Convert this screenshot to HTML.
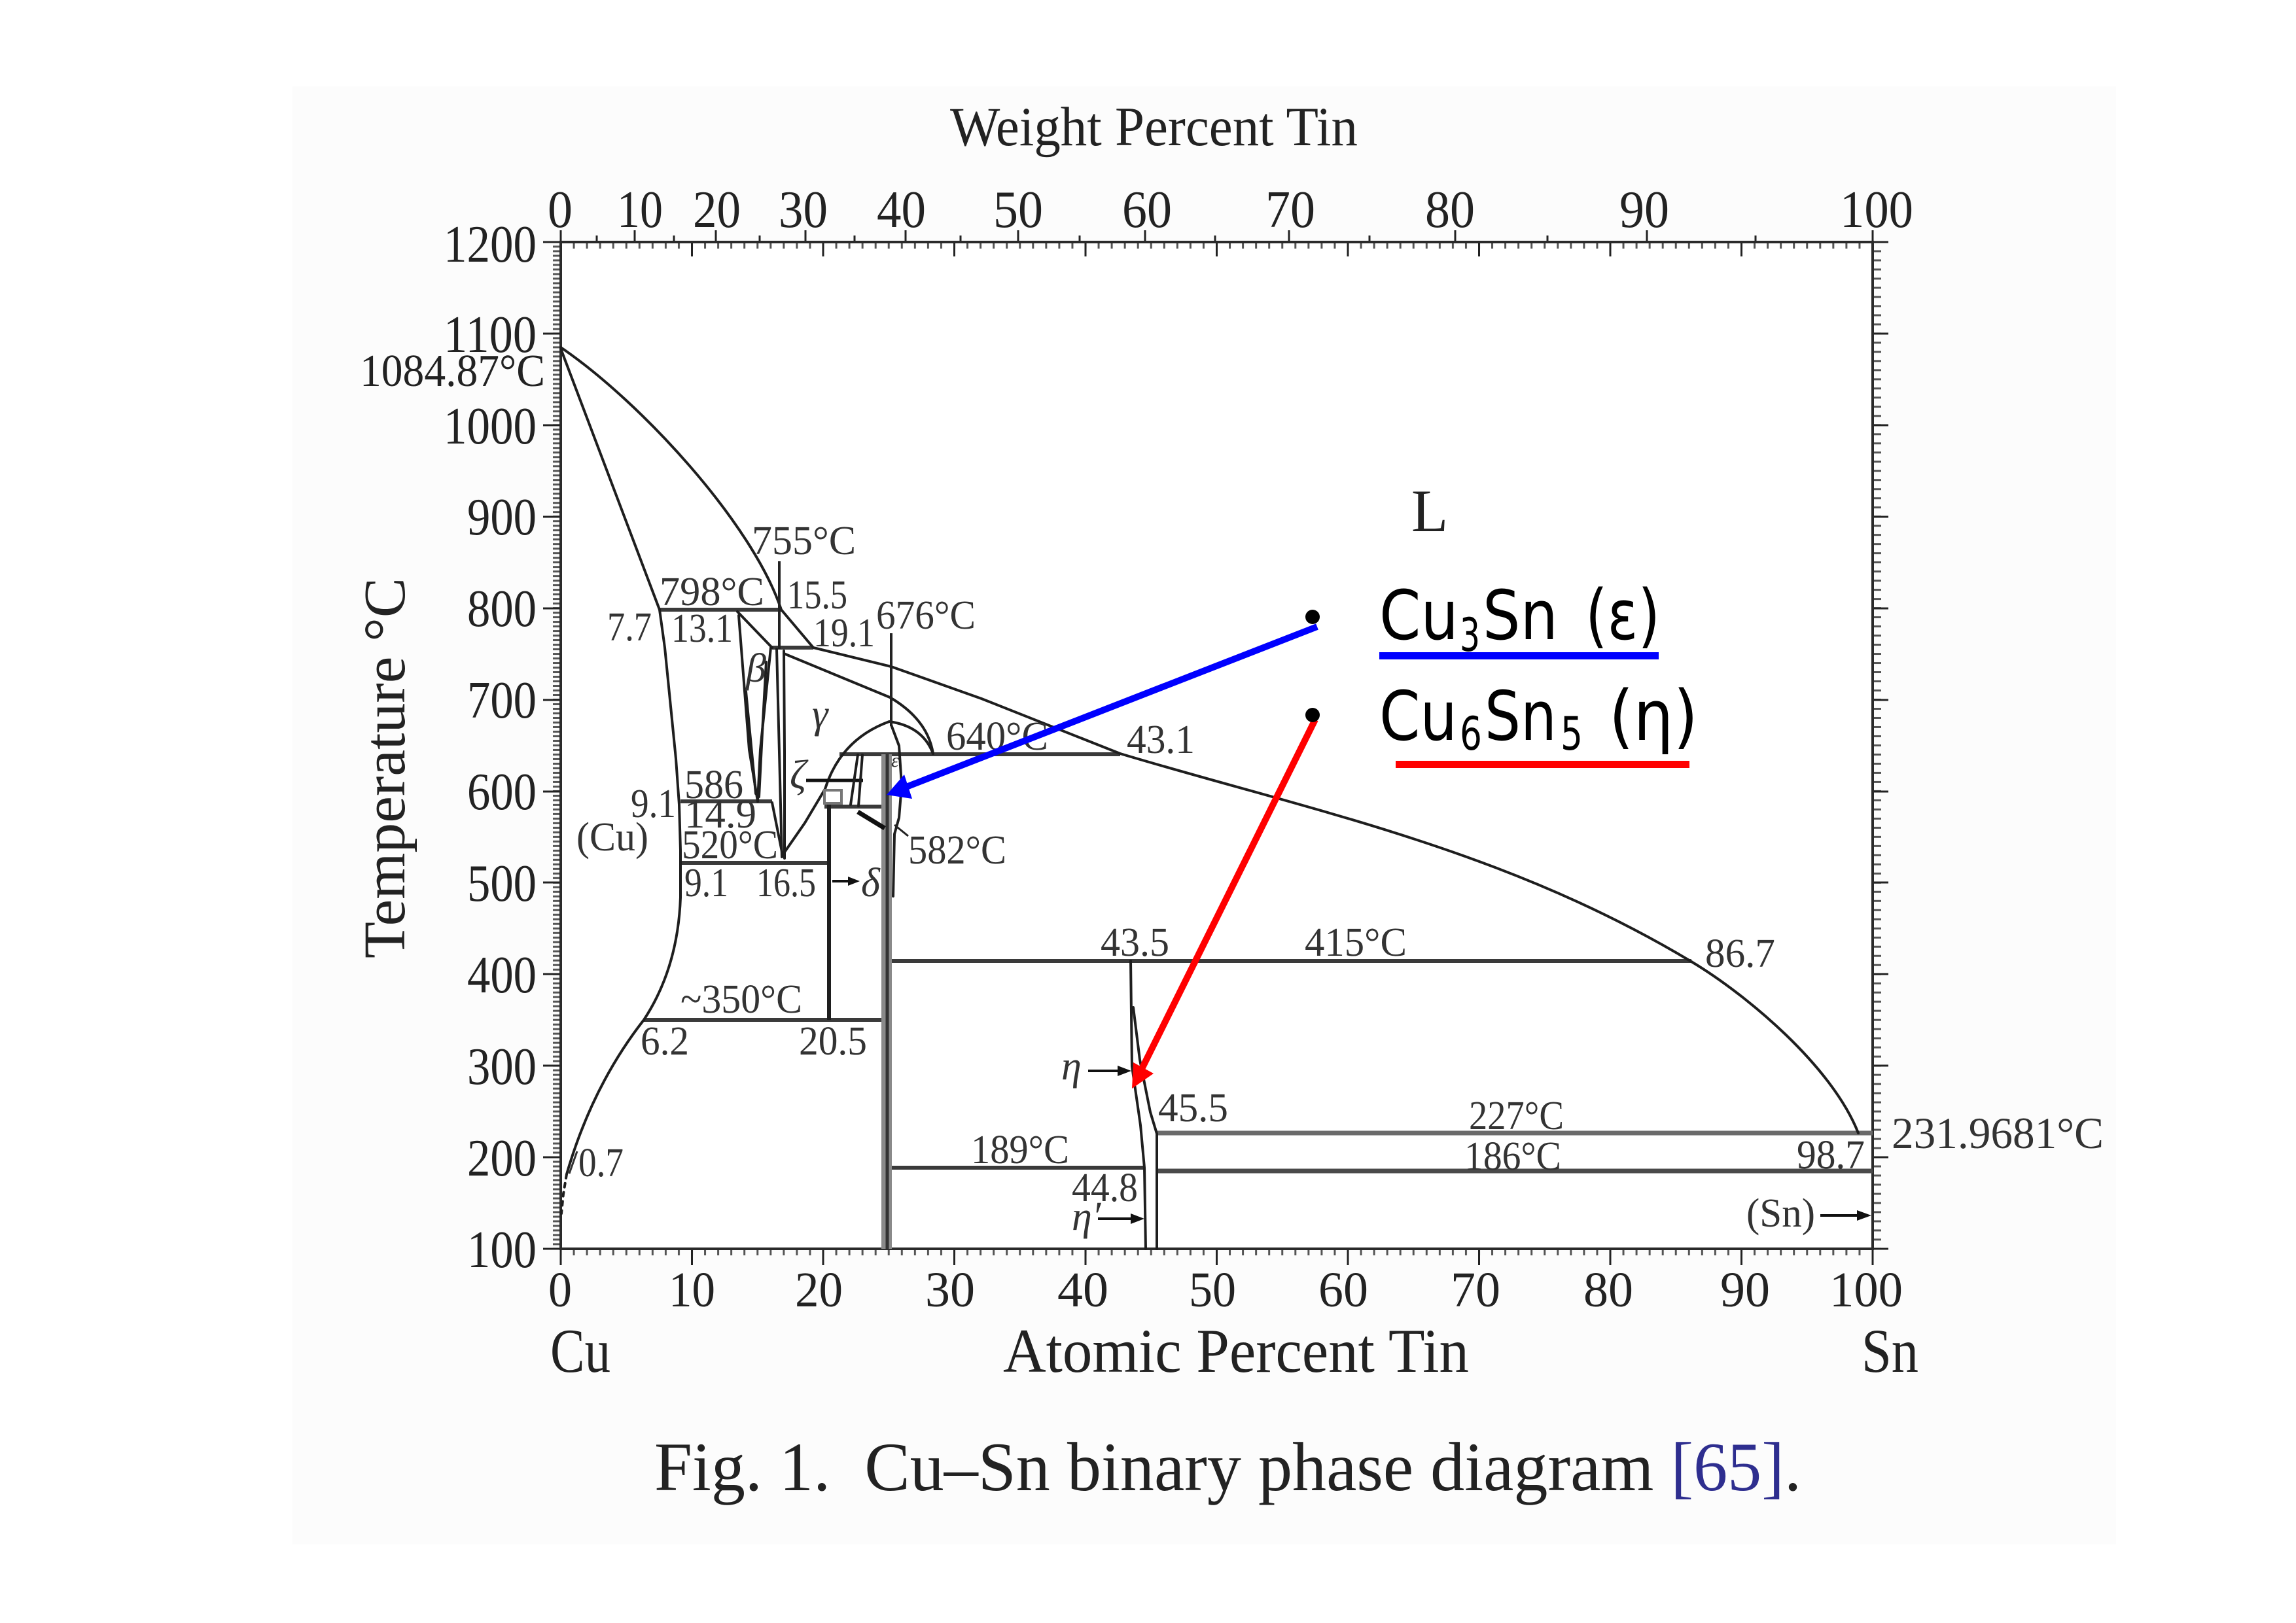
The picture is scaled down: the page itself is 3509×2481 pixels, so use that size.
<!DOCTYPE html>
<html>
<head>
<meta charset="utf-8">
<style>
html,body{margin:0;padding:0;background:#fff;}
svg{display:block;}
.s{font-family:"Liberation Serif",serif;fill:#333;}
.t{font-family:"Liberation Serif",serif;fill:#222;}
.lg{font-family:"DejaVu Sans","Liberation Sans",sans-serif;fill:#000;}
.c{fill:none;stroke:#1e1e1e;stroke-width:4;stroke-linejoin:round;stroke-linecap:round;}
.th{fill:none;stroke:#222;stroke-width:3;}
.iso{stroke:#3a3a3a;stroke-width:6;}
</style>
</head>
<body>
<svg width="3509" height="2481" viewBox="0 0 3509 2481" xmlns="http://www.w3.org/2000/svg">
<defs>
  <pattern id="pl" x="0" y="368.5" width="20" height="6.995" patternUnits="userSpaceOnUse"><rect width="20" height="3" fill="#555"/></pattern>
  <pattern id="pr" x="0" y="368.5" width="20" height="13.99" patternUnits="userSpaceOnUse"><rect width="20" height="3" fill="#555"/></pattern>
  <pattern id="pb" x="855.5" y="0" width="20.05" height="20" patternUnits="userSpaceOnUse"><rect width="3" height="20" fill="#555"/></pattern>
</defs>

<rect x="0" y="0" width="3509" height="2481" fill="#ffffff"/>
<rect x="447" y="132" width="2787" height="2229" fill="#fcfcfc"/>
<rect x="857" y="370" width="2005" height="1539" fill="#ffffff"/>

<!-- minor ticks -->
<rect x="845" y="370" width="12" height="1539" fill="url(#pl)"/>
<rect x="2862" y="370" width="13" height="1539" fill="url(#pr)"/>
<rect x="857" y="1909" width="2005" height="10" fill="url(#pb)"/>
<rect x="857" y="370" width="2005" height="10" fill="url(#pb)"/>

<!-- major ticks -->
<path class="th" d="M830,1909h27M830,1769h27M830,1629h27M830,1489h27M830,1349h27M830,1210h27M830,1070h27M830,930h27M830,790h27M830,650h27M830,510h27M830,370h27"/>
<path class="th" d="M2862,1909h24M2862,1769h24M2862,1629h24M2862,1489h24M2862,1349h24M2862,1210h24M2862,1070h24M2862,930h24M2862,790h24M2862,650h24M2862,510h24M2862,370h24"/>
<path class="th" d="M857,1909v25M1057.5,1909v25M1258,1909v25M1458.5,1909v25M1659,1909v25M1859.5,1909v25M2060,1909v25M2260.5,1909v25M2461,1909v25M2661.5,1909v25M2862,1909v25"/>
<path class="th" d="M1057.5,370v22M1258,370v22M1458.5,370v22M1659,370v22M1859.5,370v22M2060,370v22M2260.5,370v22M2461,370v22M2661.5,370v22"/>
<path class="th" d="M857,370v-18M970,370v-18M1094,370v-18M1231,370v-18M1384,370v-18M1556,370v-18M1750,370v-18M1970,370v-18M2224,370v-18M2517,370v-18M2862,370v-18"/>
<path class="th" d="M912,370v-10M1030,370v-10M1161,370v-10M1306,370v-10M1468,370v-10M1650,370v-10M1857,370v-10M2093,370v-10M2365,370v-10M2683,370v-10"/>

<!-- axes box -->
<rect x="857" y="370" width="2005" height="1539" fill="none" stroke="#2a2a2a" stroke-width="4"/>

<!-- isotherms -->
<line class="iso" x1="1008" y1="932" x2="1194" y2="932"/>
<line class="iso" x1="1180" y1="990" x2="1243" y2="990"/>
<line class="iso" x1="1040" y1="1225" x2="1180" y2="1225"/>
<line class="iso" x1="1040" y1="1319" x2="1264" y2="1319"/>
<line class="iso" x1="1283" y1="1153" x2="1712" y2="1153"/>
<line class="iso" x1="1260" y1="1233" x2="1348" y2="1233"/>
<line class="iso" x1="984" y1="1559" x2="1350" y2="1559"/>
<line class="iso" x1="1361" y1="1469" x2="2585" y2="1469"/>
<line class="iso" x1="1361" y1="1785" x2="1750" y2="1785"/>
<line x1="1768" y1="1732" x2="2862" y2="1732" stroke="#6a6a6a" stroke-width="7"/>
<line x1="1768" y1="1790" x2="2862" y2="1790" stroke="#4a4a4a" stroke-width="7"/>

<!-- epsilon band -->
<rect x="1347" y="1153" width="16" height="756" fill="#8a8a8a"/>
<line x1="1356" y1="1153" x2="1356" y2="1909" stroke="#333" stroke-width="5"/>
<!-- 20.5 vertical -->
<line x1="1267" y1="1225" x2="1267" y2="1559" stroke="#1e1e1e" stroke-width="6"/>

<!-- liquidus -->
<path class="c" d="M857,531 C980,615 1150,800 1194,932 L1243,990 L1362,1019 L1500,1068 L1712,1152 C2002,1239 2295,1296 2585,1470 C2670,1521 2800,1630 2840,1732"/>
<!-- solidus -->
<path class="c" d="M857,533 Q930,725 1008,932"/>
<!-- (Cu) solvus -->
<path class="c" d="M1008,932 L1016,990 L1025,1080 L1033,1160 L1038,1230 L1040,1300 L1040,1372 Q1036,1480 984,1559 Q905,1660 866,1795"/>
<polyline class="c" stroke-dasharray="6,8" points="866,1795 861,1825 858,1855"/>
<!-- beta -->
<polyline class="c" points="1129,941 1145,1146 1158,1225"/>
<polyline class="c" points="1178,990 1162,1146 1158,1225"/>
<polyline class="c" points="1127,935 1180,990"/>
<polyline class="c" stroke-width="3" points="1140,1057 1148,1140 1155,1213"/>
<polyline class="c" stroke-width="3" points="1171,1012 1165,1120 1160,1218"/>
<!-- 755 marker & gamma left -->
<line x1="1191" y1="858" x2="1191" y2="992" stroke="#222" stroke-width="4"/>
<polyline class="c" points="1187,992 1191,1150 1195,1310"/>
<polyline class="c" stroke-width="3" points="1198,995 1199,1150 1199,1312"/>
<!-- V -->
<polyline class="c" points="1180,1227 1196,1307"/>
<path class="c" d="M1196,1307 L1230,1258 L1261,1206 Q1285,1130 1359,1103 Q1410,1110 1426,1152"/>
<path class="c" d="M1198,999 L1360,1066 Q1418,1100 1426,1152"/>
<!-- 676 marker -->
<line x1="1362" y1="968" x2="1362" y2="1110" stroke="#222" stroke-width="4"/>
<!-- epsilon right boundary -->
<polyline class="c" stroke-width="3" points="1362,1108 1374,1140 1378,1200 1374,1250 1367,1275 1365,1370"/>
<!-- zeta -->
<line x1="1232" y1="1193" x2="1319" y2="1193" stroke="#111" stroke-width="5"/>
<rect x="1260" y="1208" width="26" height="20" fill="#fff" stroke="#777" stroke-width="4"/>
<line x1="1311" y1="1241" x2="1352" y2="1266" stroke="#111" stroke-width="7"/>
<polyline class="c" stroke-width="3" points="1311,1154 1300,1230"/>
<polyline class="c" stroke-width="3" points="1318,1154 1312,1232"/>
<line x1="1367" y1="1261" x2="1388" y2="1278" stroke="#222" stroke-width="3"/>
<!-- delta arrow -->
<line x1="1272" y1="1347" x2="1300" y2="1347" stroke="#111" stroke-width="4"/>
<polygon points="1314,1347 1296,1340 1296,1354" fill="#111"/>
<!-- eta -->
<polyline class="c" points="1728,1469 1730,1630 1743,1720 1749,1785 1751,1909"/>
<polyline class="c" points="1732,1540 1742,1620 1758,1700 1768,1733 1768,1909"/>
<line x1="1663" y1="1637" x2="1712" y2="1637" stroke="#111" stroke-width="4"/>
<polygon points="1729,1637 1708,1629 1708,1645" fill="#111"/>
<line x1="1678" y1="1863" x2="1732" y2="1863" stroke="#111" stroke-width="4"/>
<polygon points="1749,1863 1728,1855 1728,1871" fill="#111"/>
<!-- Sn arrow -->
<line x1="2782" y1="1858" x2="2842" y2="1858" stroke="#111" stroke-width="4"/>
<polygon points="2860,1858 2838,1850 2838,1866" fill="#111"/>
<!-- 0.7 leader -->
<line x1="870" y1="1794" x2="882" y2="1760" stroke="#333" stroke-width="3"/>

<!-- legend white box -->
<rect x="1960" y="870" width="650" height="325" fill="#ffffff"/>

<!-- axis tick labels left -->
<g class="t" font-size="80">
<text x="714" y="1937" textLength="106" lengthAdjust="spacingAndGlyphs">100</text>
<text x="714" y="1797" textLength="106" lengthAdjust="spacingAndGlyphs">200</text>
<text x="714" y="1657" textLength="106" lengthAdjust="spacingAndGlyphs">300</text>
<text x="714" y="1517" textLength="106" lengthAdjust="spacingAndGlyphs">400</text>
<text x="714" y="1377" textLength="106" lengthAdjust="spacingAndGlyphs">500</text>
<text x="714" y="1237" textLength="106" lengthAdjust="spacingAndGlyphs">600</text>
<text x="714" y="1097" textLength="106" lengthAdjust="spacingAndGlyphs">700</text>
<text x="714" y="957" textLength="106" lengthAdjust="spacingAndGlyphs">800</text>
<text x="714" y="817" textLength="106" lengthAdjust="spacingAndGlyphs">900</text>
<text x="678" y="678" textLength="142" lengthAdjust="spacingAndGlyphs">1000</text>
<text x="678" y="538" textLength="142" lengthAdjust="spacingAndGlyphs">1100</text>
<text x="678" y="400" textLength="142" lengthAdjust="spacingAndGlyphs">1200</text>
</g>
<text class="t" x="550" y="590" font-size="70" textLength="283" lengthAdjust="spacingAndGlyphs">1084.87°C</text>

<!-- top labels -->
<g class="t" font-size="80">
<text x="837" y="347" textLength="38" lengthAdjust="spacingAndGlyphs">0</text>
<text x="943" y="347" textLength="70" lengthAdjust="spacingAndGlyphs">10</text>
<text x="1059" y="347" textLength="73" lengthAdjust="spacingAndGlyphs">20</text>
<text x="1190" y="347" textLength="75" lengthAdjust="spacingAndGlyphs">30</text>
<text x="1340" y="347" textLength="75" lengthAdjust="spacingAndGlyphs">40</text>
<text x="1518" y="347" textLength="76" lengthAdjust="spacingAndGlyphs">50</text>
<text x="1715" y="347" textLength="76" lengthAdjust="spacingAndGlyphs">60</text>
<text x="1934" y="347" textLength="76" lengthAdjust="spacingAndGlyphs">70</text>
<text x="2178" y="347" textLength="76" lengthAdjust="spacingAndGlyphs">80</text>
<text x="2475" y="347" textLength="76" lengthAdjust="spacingAndGlyphs">90</text>
<text x="2812" y="347" textLength="112" lengthAdjust="spacingAndGlyphs">100</text>
</g>

<!-- bottom labels -->
<g class="t" font-size="76">
<text x="838" y="1997" textLength="36" lengthAdjust="spacingAndGlyphs">0</text>
<text x="1022" y="1997" textLength="71" lengthAdjust="spacingAndGlyphs">10</text>
<text x="1215" y="1997" textLength="73" lengthAdjust="spacingAndGlyphs">20</text>
<text x="1414" y="1997" textLength="76" lengthAdjust="spacingAndGlyphs">30</text>
<text x="1616" y="1997" textLength="78" lengthAdjust="spacingAndGlyphs">40</text>
<text x="1817" y="1997" textLength="72" lengthAdjust="spacingAndGlyphs">50</text>
<text x="2015" y="1997" textLength="76" lengthAdjust="spacingAndGlyphs">60</text>
<text x="2217" y="1997" textLength="76" lengthAdjust="spacingAndGlyphs">70</text>
<text x="2420" y="1997" textLength="76" lengthAdjust="spacingAndGlyphs">80</text>
<text x="2629" y="1997" textLength="76" lengthAdjust="spacingAndGlyphs">90</text>
<text x="2796" y="1997" textLength="112" lengthAdjust="spacingAndGlyphs">100</text>
</g>

<!-- axis titles -->
<text class="t" x="1452" y="222" font-size="85" textLength="623" lengthAdjust="spacingAndGlyphs">Weight Percent Tin</text>
<text class="t" x="1533" y="2097" font-size="95" textLength="712" lengthAdjust="spacingAndGlyphs">Atomic Percent Tin</text>
<text class="t" x="841" y="2097" font-size="95" textLength="92" lengthAdjust="spacingAndGlyphs">Cu</text>
<text class="t" x="2845" y="2097" font-size="95" textLength="87" lengthAdjust="spacingAndGlyphs">Sn</text>
<text class="t" transform="translate(618,1465) rotate(-90)" x="0" y="0" font-size="90" textLength="582" lengthAdjust="spacingAndGlyphs">Temperature °C</text>

<!-- inner labels -->
<g class="s" font-size="62">
<text x="1149" y="847">755°C</text>
<text x="1008" y="925" textLength="160" lengthAdjust="spacingAndGlyphs">798°C</text>
<text x="1203" y="930" textLength="92" lengthAdjust="spacingAndGlyphs">15.5</text>
<text x="928" y="979" textLength="68" lengthAdjust="spacingAndGlyphs">7.7</text>
<text x="1026" y="981" textLength="94" lengthAdjust="spacingAndGlyphs">13.1</text>
<text x="1243" y="988" textLength="94" lengthAdjust="spacingAndGlyphs">19.1</text>
<text x="1339" y="961" textLength="152" lengthAdjust="spacingAndGlyphs">676°C</text>
<text x="1140" y="1042" font-style="italic">β</text>
<text x="1241" y="1112" font-style="italic">γ</text>
<text x="1446" y="1146" textLength="156" lengthAdjust="spacingAndGlyphs">640°C</text>
<text x="1722" y="1151" textLength="104" lengthAdjust="spacingAndGlyphs">43.1</text>
<text x="1046" y="1220" textLength="90" lengthAdjust="spacingAndGlyphs">586</text>
<text x="964" y="1249" textLength="69" lengthAdjust="spacingAndGlyphs">9.1</text>
<text x="1046" y="1265" textLength="110" lengthAdjust="spacingAndGlyphs">14.9</text>
<text x="881" y="1300" textLength="110" lengthAdjust="spacingAndGlyphs">(Cu)</text>
<text x="1042" y="1312" textLength="147" lengthAdjust="spacingAndGlyphs">520°C</text>
<text x="1046" y="1370" textLength="67" lengthAdjust="spacingAndGlyphs">9.1</text>
<text x="1156" y="1370" textLength="91" lengthAdjust="spacingAndGlyphs">16.5</text>
<text x="1207" y="1205" font-style="italic">ζ</text>
<text x="1316" y="1370" font-style="italic">δ</text>
<text x="1388" y="1320" textLength="150" lengthAdjust="spacingAndGlyphs">582°C</text>
<text x="1040" y="1548" textLength="186" lengthAdjust="spacingAndGlyphs">~350°C</text>
<text x="979" y="1612" textLength="74" lengthAdjust="spacingAndGlyphs">6.2</text>
<text x="1221" y="1612" textLength="104" lengthAdjust="spacingAndGlyphs">20.5</text>
<text x="884" y="1798" textLength="69" lengthAdjust="spacingAndGlyphs">0.7</text>
<text x="1484" y="1778" textLength="150" lengthAdjust="spacingAndGlyphs">189°C</text>
<text x="1682" y="1461" textLength="105" lengthAdjust="spacingAndGlyphs">43.5</text>
<text x="1994" y="1461" textLength="156" lengthAdjust="spacingAndGlyphs">415°C</text>
<text x="2606" y="1478" textLength="107" lengthAdjust="spacingAndGlyphs">86.7</text>
<text x="1622" y="1650" font-style="italic">η</text>
<text x="1770" y="1714" textLength="107" lengthAdjust="spacingAndGlyphs">45.5</text>
<text x="2245" y="1726" textLength="145" lengthAdjust="spacingAndGlyphs">227°C</text>
<text x="2238" y="1788" textLength="148" lengthAdjust="spacingAndGlyphs">186°C</text>
<text x="2746" y="1786" textLength="104" lengthAdjust="spacingAndGlyphs">98.7</text>
<text x="1638" y="1836" textLength="101" lengthAdjust="spacingAndGlyphs">44.8</text>
<text x="1638" y="1880" font-style="italic">η′</text>
<text x="2669" y="1875" textLength="105" lengthAdjust="spacingAndGlyphs">(Sn)</text>
<text x="1362" y="1172" font-size="30" font-style="italic">ε</text>
</g>
<text class="s" x="2891" y="1755" font-size="68" textLength="324" lengthAdjust="spacingAndGlyphs">231.9681°C</text>
<text class="t" x="2157" y="812" font-size="92">L</text>

<!-- legend -->
<g class="lg">
<text x="2108" y="977" font-size="104" textLength="121" lengthAdjust="spacingAndGlyphs">Cu</text>
<text x="2231" y="995" font-size="70" textLength="31" lengthAdjust="spacingAndGlyphs">3</text>
<text x="2266" y="977" font-size="104" textLength="115" lengthAdjust="spacingAndGlyphs">Sn</text>
<text x="2423" y="977" font-size="106" textLength="114" lengthAdjust="spacingAndGlyphs">(ε)</text>
<text x="2108" y="1131" font-size="104" textLength="119" lengthAdjust="spacingAndGlyphs">Cu</text>
<text x="2231" y="1146" font-size="70" textLength="34" lengthAdjust="spacingAndGlyphs">6</text>
<text x="2269" y="1131" font-size="104" textLength="110" lengthAdjust="spacingAndGlyphs">Sn</text>
<text x="2385" y="1146" font-size="70" textLength="34" lengthAdjust="spacingAndGlyphs">5</text>
<text x="2459" y="1131" font-size="106" textLength="136" lengthAdjust="spacingAndGlyphs">(η)</text>
</g>
<rect x="2108" y="997" width="427" height="11" fill="#0000ff"/>
<rect x="2133" y="1163" width="449" height="11" fill="#ff0000"/>

<!-- arrows -->
<line x1="2013" y1="958" x2="1385" y2="1203" stroke="#0000ff" stroke-width="10"/>
<polygon points="1355,1215 1394,1221 1382,1184" fill="#0000ff"/>
<line x1="2010" y1="1100" x2="1742" y2="1640" stroke="#ff0000" stroke-width="10"/>
<polygon points="1730,1664 1732,1624 1763,1641" fill="#ff0000"/>
<circle cx="2006" cy="943" r="11" fill="#000"/>
<circle cx="2006" cy="1093" r="11" fill="#000"/>

<!-- caption -->
<text class="t" x="1000" y="2278" font-size="106" textLength="1753" lengthAdjust="spacingAndGlyphs" style="white-space:pre" fill="#111">Fig. 1.  Cu–Sn binary phase diagram <tspan fill="#2e2e8f">[65]</tspan>.</text>
</svg>
</body>
</html>
